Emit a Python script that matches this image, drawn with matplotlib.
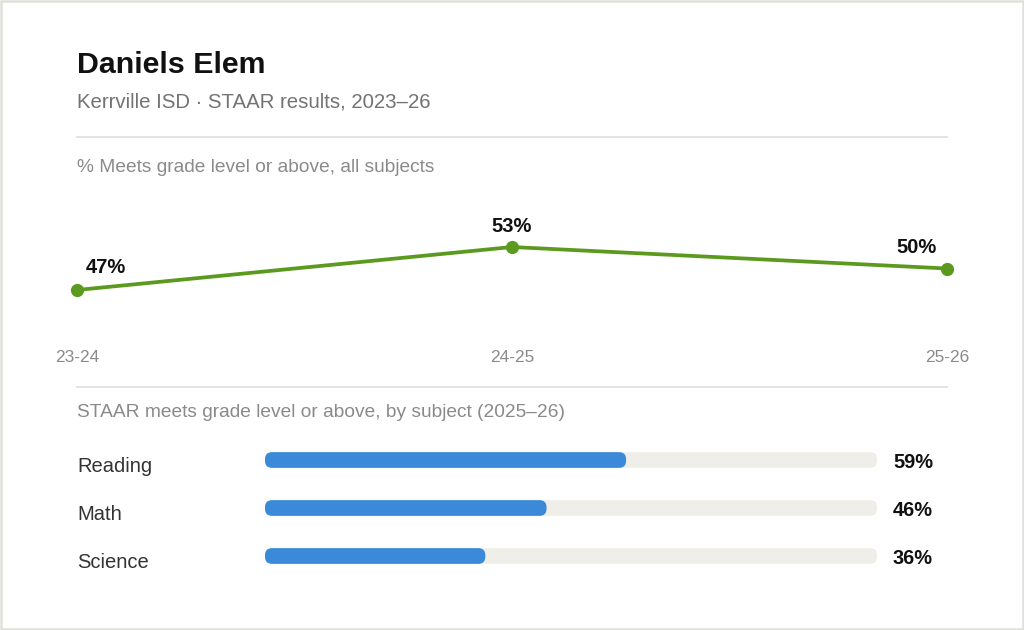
import matplotlib.pyplot as plt
import matplotlib.transforms as mtransforms
from matplotlib.patches import FancyBboxPatch, Rectangle
from matplotlib.lines import Line2D

plt.rcParams['font.family'] = ['Liberation Sans', 'DejaVu Sans']

# data
title = 'Daniels Elem'
subtitle = 'Kerrville ISD \u00b7 STAAR results, 2023\u201326'
trend_title = '% Meets grade level or above, all subjects'
years = ['23-24', '24-25', '25-26']
meets_pct = [47, 53, 50]
subj_title = 'STAAR meets grade level or above, by subject (2025\u201326)'
subjects = ['Reading', 'Math', 'Science']
subj_pct = [59, 46, 36]

GREEN = '#5b9a1f'
BLUE = '#3a8ad9'
TRACK = '#efeee9'
RULE = '#e2e1dc'

W, H = 1024, 630
fig = plt.figure(figsize=(W / 100, H / 100), dpi=100)
fig.patch.set_facecolor('white')


def fx(px):
    return px / W


def fy(py):
    # pixel from top -> figure fraction from bottom
    return 1 - py / H


# card border
fig.add_artist(Rectangle((fx(1), fy(628.5)), fx(1021.5), 627.5 / H, transform=fig.transFigure,
                         fill=False, edgecolor='#e0e0da', linewidth=1.8))

# header texts
fig.text(fx(77), fy(73), title, fontsize=21.9, fontweight='bold', color='#111111', va='baseline')
fig.text(fx(77), fy(108), subtitle, fontsize=14.7, color='#737373', va='baseline')
for yy in (137, 387):
    fig.add_artist(Line2D([fx(77), fx(947)], [fy(yy), fy(yy)], transform=fig.transFigure,
                          color=RULE, linewidth=1.3))
fig.text(fx(77), fy(172), trend_title, fontsize=13.75, color='#8a8a8a', va='baseline')
fig.text(fx(77), fy(417), subj_title, fontsize=13.75, color='#8a8a8a', va='baseline')

# trend line
ax = fig.add_axes([fx(77), fy(330), fx(870), 130 / H])
xs = list(range(len(years)))
ax.plot(xs, meets_pct, color=GREEN, linewidth=2.7, marker='o', markersize=8.5, clip_on=False,
        solid_capstyle='round')
ax.set_xlim(0, len(years) - 1)
ax.set_ylim(41.42, 59.56)
ax.axis('off')

offsets = [((6.5, 12.2), 'left'), ((0, 10.8), 'center'), ((-7.2, 11.5), 'right')]
for x, v, (off, ha) in zip(xs, meets_pct, offsets):
    ax.annotate(f'{v}%', xy=(x, v), xytext=off, textcoords='offset points', ha=ha,
                va='baseline', fontsize=14.5, fontweight='bold', color='#111111')

tr = mtransforms.blended_transform_factory(ax.transData, fig.transFigure)
for x, lab in zip(xs, years):
    ax.text(x, fy(362), lab, transform=tr, ha='center', va='baseline', fontsize=12.4,
            color='#8a8a8a', clip_on=False)

# subject bars
bx = fig.add_axes([fx(265), fy(580), fx(612), 144 / H])
bx.set_xlim(0, 100)
bx.set_ylim(len(subjects) - 0.5, -0.5)
bx.axis('off')

bar_h = 15.7 / 48
x_unit = 612 / 100  # px per percent
y_unit = 48  # px per row
rad = 7 / x_unit
asp = x_unit / y_unit
for i, (name, v) in enumerate(zip(subjects, subj_pct)):
    bx.add_patch(FancyBboxPatch((0, i - bar_h / 2), 100, bar_h,
                                boxstyle=f'round,pad=0,rounding_size={rad}',
                                mutation_aspect=asp, facecolor=TRACK, edgecolor='none'))
    bx.add_patch(FancyBboxPatch((0, i - bar_h / 2), v, bar_h,
                                boxstyle=f'round,pad=0,rounding_size={rad}',
                                mutation_aspect=asp, facecolor=BLUE, edgecolor='none'))
    bx.annotate(name, xy=(0, i), xytext=(-188 * 0.72, -12 * 0.72), textcoords='offset points',
                ha='left', va='baseline', fontsize=14.5, color='#333333')
    bx.annotate(f'{v}%', xy=(100, i), xytext=(16 * 0.72, -8 * 0.72), textcoords='offset points',
                ha='left', va='baseline', fontsize=14.4, fontweight='bold', color='#111111')

fig.savefig('out.png', dpi=100, facecolor='white')
